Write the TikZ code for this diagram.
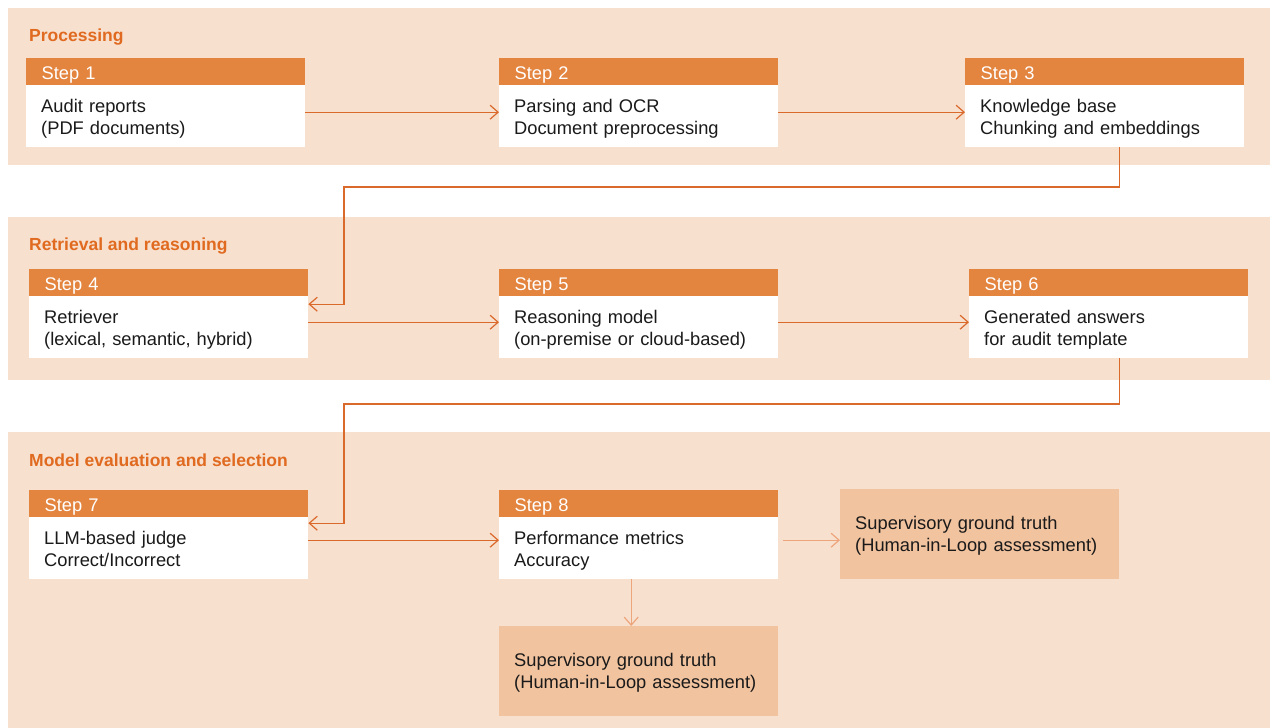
\documentclass[tikz,border=0pt]{standalone}
\usepackage{fontspec}
\setmainfont{Liberation Sans}
\usetikzlibrary{arrows.meta}
\definecolor{panelc}{HTML}{F8E0CF}
\definecolor{hdrc}{HTML}{E3843F}
\definecolor{titlec}{HTML}{E06A1F}
\definecolor{arrc}{HTML}{DA692C}
\definecolor{lightarr}{HTML}{EDA57C}
\definecolor{supc}{HTML}{F2C39F}
\definecolor{txtc}{HTML}{1A1A1A}
\newcommand{\bodyfont}{\fontsize{18.3}{22.5}\selectfont}
\newcommand{\ttlfont}{\fontsize{17.5}{22.5}\selectfont\bfseries}
\begin{document}
\begin{tikzpicture}[x=1pt,y=-1pt,
  panel/.style={fill=panelc,draw=none},
  ttl/.style={anchor=base west,text=titlec,font=\ttlfont,inner sep=0pt},
  hdr/.style={fill=hdrc,text=white,anchor=north west,minimum width=279pt,minimum height=27pt,inner xsep=15.5pt,inner ysep=0pt,text width=248pt,align=left,font=\bodyfont,text height=16pt,text depth=1pt},
  body/.style={fill=white,text=txtc,anchor=north west,minimum height=62pt,inner xsep=15pt,inner ysep=0pt,text width=249pt,align=left,font=\bodyfont,text depth=21.5pt},
  sup/.style={fill=supc,text=txtc,anchor=north west,minimum height=90pt,inner xsep=15pt,inner ysep=0pt,text width=249pt,align=left,font=\bodyfont,text depth=23pt},
  arr/.style={draw=arrc,line width=1.2pt,-{Straight Barb[length=8pt,width=14pt]}},
  larr/.style={draw=lightarr,line width=1.2pt,-{Straight Barb[length=8pt,width=14pt]}}
]
\useasboundingbox (0,0) rectangle (1272,728);
\fill[white] (0,0) rectangle (1272,728);
\fill[panel] (8,8) rectangle (1270,165);
\fill[panel] (8,217) rectangle (1270,380);
\fill[panel] (8,432) rectangle (1270,728);

\node[ttl] (t1) at (29,41) {Processing};
\node[ttl] (t2) at (29,250) {Retrieval and reasoning};
\node[ttl] (t3) at (29,466) {Model evaluation and selection};

% Row 1
\node[hdr] (h1) at (26,58) {Step 1};
\node[body] (b1) at (26,85) {Audit reports\\(PDF documents)};
\node[hdr] (h2) at (499,58) {Step 2};
\node[body] (b2) at (499,85) {Parsing and OCR\\Document preprocessing};
\node[hdr] (h3) at (965,58) {Step 3};
\node[body] (b3) at (965,85) {Knowledge base\\Chunking and embeddings};

% Row 2
\node[hdr] (h4) at (29,269) {Step 4};
\node[body] (b4) at (29,296) {Retriever\\(lexical, semantic, hybrid)};
\node[hdr] (h5) at (499,269) {Step 5};
\node[body] (b5) at (499,296) {Reasoning model\\(on-premise or cloud-based)};
\node[hdr] (h6) at (969,269) {Step 6};
\node[body] (b6) at (969,296) {Generated answers\\for audit template};

% Row 3
\node[hdr] (h7) at (29,490) {Step 7};
\node[body] (b7) at (29,517) {LLM-based judge\\Correct/Incorrect};
\node[hdr] (h8) at (499,490) {Step 8};
\node[body] (b8) at (499,517) {Performance metrics\\Accuracy};
\node[sup] (s1) at (840,489) {Supervisory ground truth\\(Human-in-Loop assessment)};
\node[sup] (s2) at (499,626) {Supervisory ground truth\\(Human-in-Loop assessment)};

% connectors
\draw[arr] ([yshift=4pt]b1.east) -- ([yshift=4pt]b1.east -| b2.west);
\draw[arr] ([yshift=4pt]b2.east) -- ([yshift=4pt]b2.east -| b3.west);
\coordinate (k1) at (344,187);
\draw[arr] ([xshift=14.5pt]b3.south) |- (k1) |- ([yshift=23pt]b4.east);
\draw[arr] ([yshift=5pt]b4.east) -- ([yshift=5pt]b4.east -| b5.west);
\draw[arr] ([yshift=5pt]b5.east) -- ([yshift=5pt]b5.east -| b6.west);
\coordinate (k2) at (344,404);
\draw[arr] ([xshift=10.5pt]b6.south) |- (k2) |- ([yshift=25pt]b7.east);
\draw[arr] ([yshift=8pt]b7.east) -- ([yshift=8pt]b7.east -| b8.west);
\draw[larr] ([xshift=5pt,yshift=8pt]b8.east) -- ([yshift=8pt]b8.east -| s1.west);
\draw[larr] ([xshift=-7.5pt]b8.south) -- ([xshift=-7.5pt]b8.south |- s2.north);
\end{tikzpicture}
\end{document}
